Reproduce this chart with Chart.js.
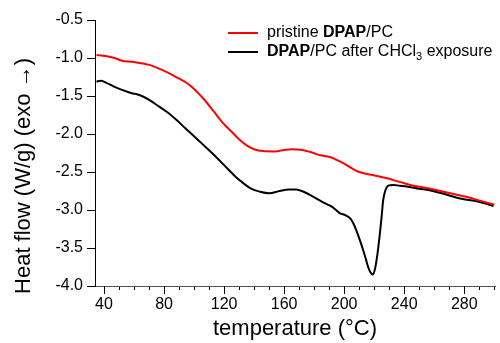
<!DOCTYPE html>
<html><head><meta charset="utf-8">
<script src="https://cdn.jsdelivr.net/npm/chart.js@4/dist/chart.umd.min.js"></script>
<style>html,body{margin:0;padding:0;background:#fff}#wrap{width:500px;height:343px}</style>
</head><body><div id="wrap"><canvas id="c" width="500" height="343"></canvas></div>
<script>
// ---- data ----
const pristineTemp = [35, 41, 47, 52, 59, 70, 79, 89, 97, 106, 113, 119, 124, 130, 135, 140, 146, 154, 160, 165, 172, 178, 184, 190, 195, 200, 205, 210, 219, 228, 237, 246, 255, 264, 273, 282, 291, 300];
const pristineFlow = [-0.96, -0.975, -1.0, -1.035, -1.05, -1.09, -1.16, -1.26, -1.355, -1.53, -1.70, -1.85, -1.95, -2.07, -2.15, -2.20, -2.225, -2.23, -2.21, -2.20, -2.21, -2.24, -2.28, -2.30, -2.34, -2.39, -2.45, -2.50, -2.54, -2.58, -2.63, -2.68, -2.71, -2.75, -2.79, -2.83, -2.88, -2.93];
const exposedTemp = [35, 38, 42, 46, 52, 58, 64, 70, 76, 82, 88, 94, 100, 106, 112, 118, 123, 128, 133, 138, 144, 150, 157, 163, 168, 173, 179, 186, 192, 197, 201, 204, 206, 208, 210, 212.7, 214.5, 216, 217.5, 219, 220.5, 221.6, 222.7, 223.8, 225, 226, 227.5, 229.3, 232.7, 237, 241.6, 250, 257, 265, 272, 279, 287, 293, 299.5];
const exposedFlow = [-1.31, -1.30, -1.33, -1.37, -1.42, -1.46, -1.49, -1.55, -1.63, -1.71, -1.81, -1.92, -2.03, -2.14, -2.25, -2.37, -2.47, -2.57, -2.65, -2.72, -2.76, -2.78, -2.75, -2.73, -2.73, -2.76, -2.82, -2.90, -2.96, -3.04, -3.07, -3.11, -3.17, -3.26, -3.37, -3.53, -3.65, -3.75, -3.82, -3.85, -3.78, -3.66, -3.50, -3.31, -3.08, -2.87, -2.74, -2.68, -2.67, -2.68, -2.69, -2.72, -2.74, -2.78, -2.82, -2.855, -2.88, -2.91, -2.95];
const xLabelTicks = [40, 80, 120, 160, 200, 240, 280];
const xMinorTicks = [40, 50, 60, 70, 80, 90, 100, 110, 120, 130, 140, 150, 160, 170, 180, 190, 200, 210, 220, 230, 240, 250, 260, 270, 280, 290, 300];
const yTicks = [-0.5, -1.0, -1.5, -2.0, -2.5, -3.0, -3.5, -4.0];
const seriesNames = ['pristine DPAP/PC', 'DPAP/PC after CHCl3 exposure'];
const legendParts = [
  [{t: 'pristine '}, {t: 'DPAP', b: true}, {t: '/PC'}],
  [{t: 'DPAP', b: true}, {t: '/PC after CHCl'}, {t: '3', sub: true}, {t: ' exposure'}]
];
const xTitle = 'temperature (°C)';
const yTitle = 'Heat flow (W/g) (exo →)';
// ---------------------------------------

const FONT = "'Liberation Sans', Arial, sans-serif";
const pts = (xs, ys) => xs.map((x, i) => ({x: x, y: ys[i]}));

const extras = {
  id: 'extras',
  afterDraw(chart) {
    const ctx = chart.ctx, xs = chart.scales.x, area = chart.chartArea;
    ctx.save();
    // long major ticks on x
    ctx.strokeStyle = '#000'; ctx.lineWidth = 1;
    xLabelTicks.forEach(v => {
      const px = Math.round(xs.getPixelForValue(v)) + 0.5;
      ctx.beginPath(); ctx.moveTo(px, area.bottom); ctx.lineTo(px, area.bottom + 8); ctx.stroke();
    });
    // y title
    ctx.save();
    ctx.translate(24, 176); ctx.rotate(-Math.PI / 2);
    ctx.font = '22px ' + FONT; ctx.fillStyle = '#000';
    ctx.textAlign = 'center'; ctx.textBaseline = 'middle';
    ctx.fillText(yTitle, 0, 0);
    ctx.restore();
    // legend
    const rows = [33, 52];
    chart.data.datasets.forEach((ds, i) => {
      const y = rows[i];
      ctx.strokeStyle = ds.borderColor; ctx.lineWidth = 2;
      ctx.beginPath(); ctx.moveTo(228, y); ctx.lineTo(258, y); ctx.stroke();
      let x = 267;
      ctx.fillStyle = '#000'; ctx.textBaseline = 'middle'; ctx.textAlign = 'left';
      legendParts[i].forEach(p => {
        ctx.font = (p.b ? 'bold ' : '') + (p.sub ? '11px ' : '16px ') + FONT;
        ctx.fillText(p.t, x, p.sub ? y + 5 : y);
        x += ctx.measureText(p.t).width;
      });
    });
    ctx.restore();
  }
};

new Chart(document.getElementById('c'), {
  type: 'line',
  data: {
    datasets: [
      {label: seriesNames[0], data: pts(pristineTemp, pristineFlow), borderColor: '#ff0000', borderWidth: 2, pointRadius: 0, cubicInterpolationMode: 'monotone', fill: false},
      {label: seriesNames[1], data: pts(exposedTemp, exposedFlow), borderColor: '#000000', borderWidth: 2, pointRadius: 0, cubicInterpolationMode: 'monotone', fill: false}
    ]
  },
  options: {
    responsive: false, animation: false, devicePixelRatio: 1,
    layout: {padding: {top: 20, right: 5, left: 0, bottom: 0}},
    plugins: {legend: {display: false}, tooltip: {enabled: false}},
    scales: {
      x: {
        type: 'linear', min: 34, max: 300.5,
        afterBuildTicks: s => { s.ticks = xMinorTicks.map(v => ({value: v})); },
        afterFit: s => { s.height = 57; },
        ticks: {
          autoSkip: false, maxRotation: 0, padding: 5, color: '#000',
          font: {family: FONT, size: 16},
          callback: v => (xLabelTicks.includes(v) ? String(v) : '')
        },
        grid: {drawOnChartArea: false, drawTicks: true, tickLength: 4, color: '#000'},
        border: {display: true, color: '#555', width: 1},
        title: {display: true, text: xTitle, color: '#000', font: {family: FONT, size: 22}, padding: {top: 0, bottom: 1}}
      },
      y: {
        type: 'linear', min: -4.0, max: -0.5,
        afterBuildTicks: s => { s.ticks = yTicks.map(v => ({value: v})); },
        afterFit: s => { s.width = 95; },
        ticks: {
          color: '#000', padding: 4, font: {family: FONT, size: 16},
          callback: v => v.toFixed(1)
        },
        grid: {drawOnChartArea: false, drawTicks: true, tickLength: 8, color: '#000'},
        border: {display: true, color: '#000', width: 1}
      }
    }
  },
  plugins: [extras]
});
</script>
</body></html>
